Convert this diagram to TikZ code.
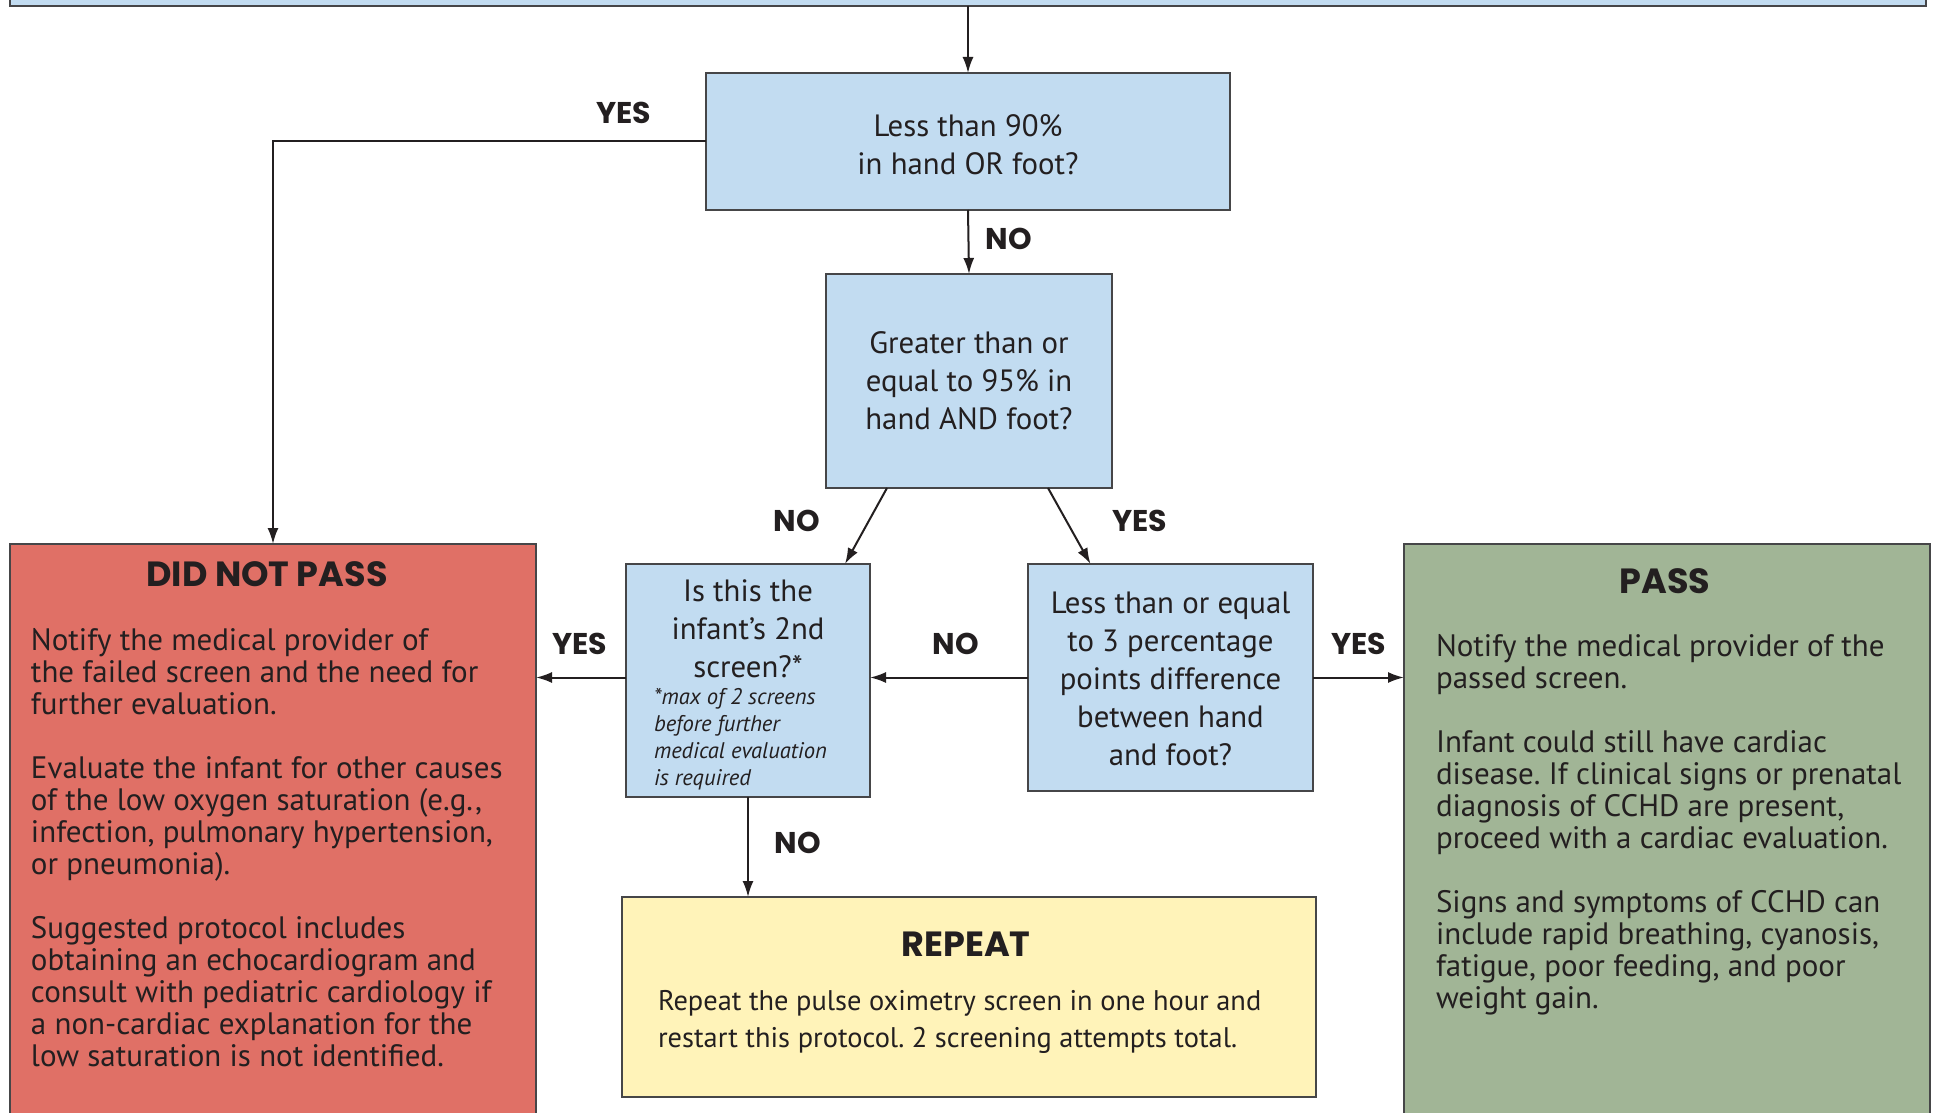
\documentclass[tikz,border=0pt]{standalone}
\usepackage{fontspec}
\setmainfont{PT Sans}
\newfontfamily\headfont{Poppins}
\usepackage{xcolor}
\usetikzlibrary{arrows.meta}
\definecolor{qblue}{RGB}{194,220,241}
\definecolor{failred}{RGB}{224,112,102}
\definecolor{passgreen}{RGB}{161,181,150}
\definecolor{repyellow}{RGB}{255,243,185}
\definecolor{boxline}{RGB}{70,70,72}
\definecolor{ink}{RGB}{35,31,32}
\frenchspacing

\begin{document}
\begin{tikzpicture}[
    x                  = 0.5pt,
    y                  = -0.5pt,
    every node/.style  = {inner sep=0pt, outer sep=0pt, text=ink},
    qbox/.style        = {draw=boxline, fill=qblue, line width=0.7pt, align=center,
                          font=\fontsize{15.4}{19}\selectfont},
    result/.style      = {draw=boxline, line width=0.6pt},
    head/.style        = {font=\headfont\bfseries\fontsize{17.5}{20}\selectfont},
    body/.style        = {anchor=north west, align=left, font=\fontsize{15.5}{16}\selectfont},
    note/.style        = {anchor=north west, align=left, font=\itshape\fontsize{11.3}{13.5}\selectfont},
    answer/.style      = {font=\headfont\bfseries\fontsize{15}{17}\selectfont},
    arr/.style         = {draw=ink, line width=1pt, -{Latex[length=8pt,width=5.5pt]}}
  ]
\useasboundingbox (0,0) rectangle (1935,1113);

\node[qbox, minimum width=958pt, minimum height=26pt] (screen) at (968,-20) {};
\node[qbox, minimum width=262pt, minimum height=68.5pt] (less90) at (968,141.5) {};
\node[qbox, draw=none, fill=none] (less90q) at (968,145) {Less than 90\%\\in hand OR foot?};
\node[qbox, minimum width=143pt, minimum height=107pt] (geq95) at (969,381) {Greater than or\\equal to 95\% in\\hand AND foot?};
\node[qbox, minimum width=122pt, minimum height=116.5pt] (second) at (748,680.5) {};
\node[qbox, draw=none, fill=none] (secondq) at (748,629) {Is this the\\infant's 2nd\\screen?*};
\node[note] (secondnote) at (654,688) {*max of 2 screens\\before further\\medical evaluation\\is required};
\node[qbox, minimum width=142.5pt, minimum height=113.5pt] (diff3) at (1170.5,677.5) {};
\node[qbox, draw=none, fill=none] (diff3q) at (1170.5,679) {Less than or equal\\to 3 percentage\\points difference\\between hand\\and foot?};

\node[result, fill=failred, minimum width=263pt, minimum height=288pt] (didnot) at (273,832) {};
\node[head] (didnottitle) at (267,574) {DID NOT PASS};
\node[body] (didnottext) at (31,628) {Notify the medical provider of\\the failed screen and the need for\\further evaluation.\\[16pt]Evaluate the infant for other causes\\of the low oxygen saturation (e.g.,\\infection, pulmonary hypertension,\\or pneumonia).\\[16pt]Suggested protocol includes\\obtaining an echocardiogram and\\consult with pediatric cardiology if\\a non-cardiac explanation for the\\low saturation is not identified.};

\node[result, fill=passgreen, minimum width=263pt, minimum height=288pt] (pass) at (1667,832) {};
\node[head] (passtitle) at (1665,581) {PASS};
\node[body] (passtext) at (1436,634) {Notify the medical provider of the\\passed screen.\\[16pt]Infant could still have cardiac\\disease. If clinical signs or prenatal\\diagnosis of CCHD are present,\\proceed with a cardiac evaluation.\\[16pt]Signs and symptoms of CCHD can\\include rapid breathing, cyanosis,\\fatigue, poor feeding, and poor\\weight gain.};

\node[result, fill=repyellow, minimum width=347pt, minimum height=100pt] (repeat) at (969,997) {};
\node[head] (repeattitle) at (966,944) {REPEAT};
\node[body, font=\fontsize{14.2}{18.5}\selectfont] (repeattext) at (658,990) {Repeat the pulse oximetry screen in one hour and\\restart this protocol. 2 screening attempts total.};

\draw[arr] (screen.south) -- (less90.north);
\draw[arr] (less90.west) -| (didnot.north);
\draw[arr] (less90.south) -- (geq95.north);
\draw[arr] ([xshift=-41pt]geq95.south) -- ([xshift=48.5pt]second.north);
\draw[arr] ([xshift=39.5pt]geq95.south) -- ([xshift=-40pt]diff3.north);
\draw[arr] (diff3.west) -- (diff3.west -| second.east);
\draw[arr] (diff3.west -| second.west) -- (diff3.west -| didnot.east);
\draw[arr] (diff3.east) -- (diff3.east -| pass.west);
\draw[arr] (second.south) -- (second.south |- repeat.north);

\node[answer] (yes1) at (624,113) {YES};
\node[answer] (no1) at (1009,239) {NO};
\node[answer] (no2) at (797,521) {NO};
\node[answer] (yes2) at (1140,521) {YES};
\node[answer] (yes3) at (580,644) {YES};
\node[answer] (no3) at (956,644) {NO};
\node[answer] (yes4) at (1359,644) {YES};
\node[answer] (no4) at (798,843) {NO};
\end{tikzpicture}
\end{document}
